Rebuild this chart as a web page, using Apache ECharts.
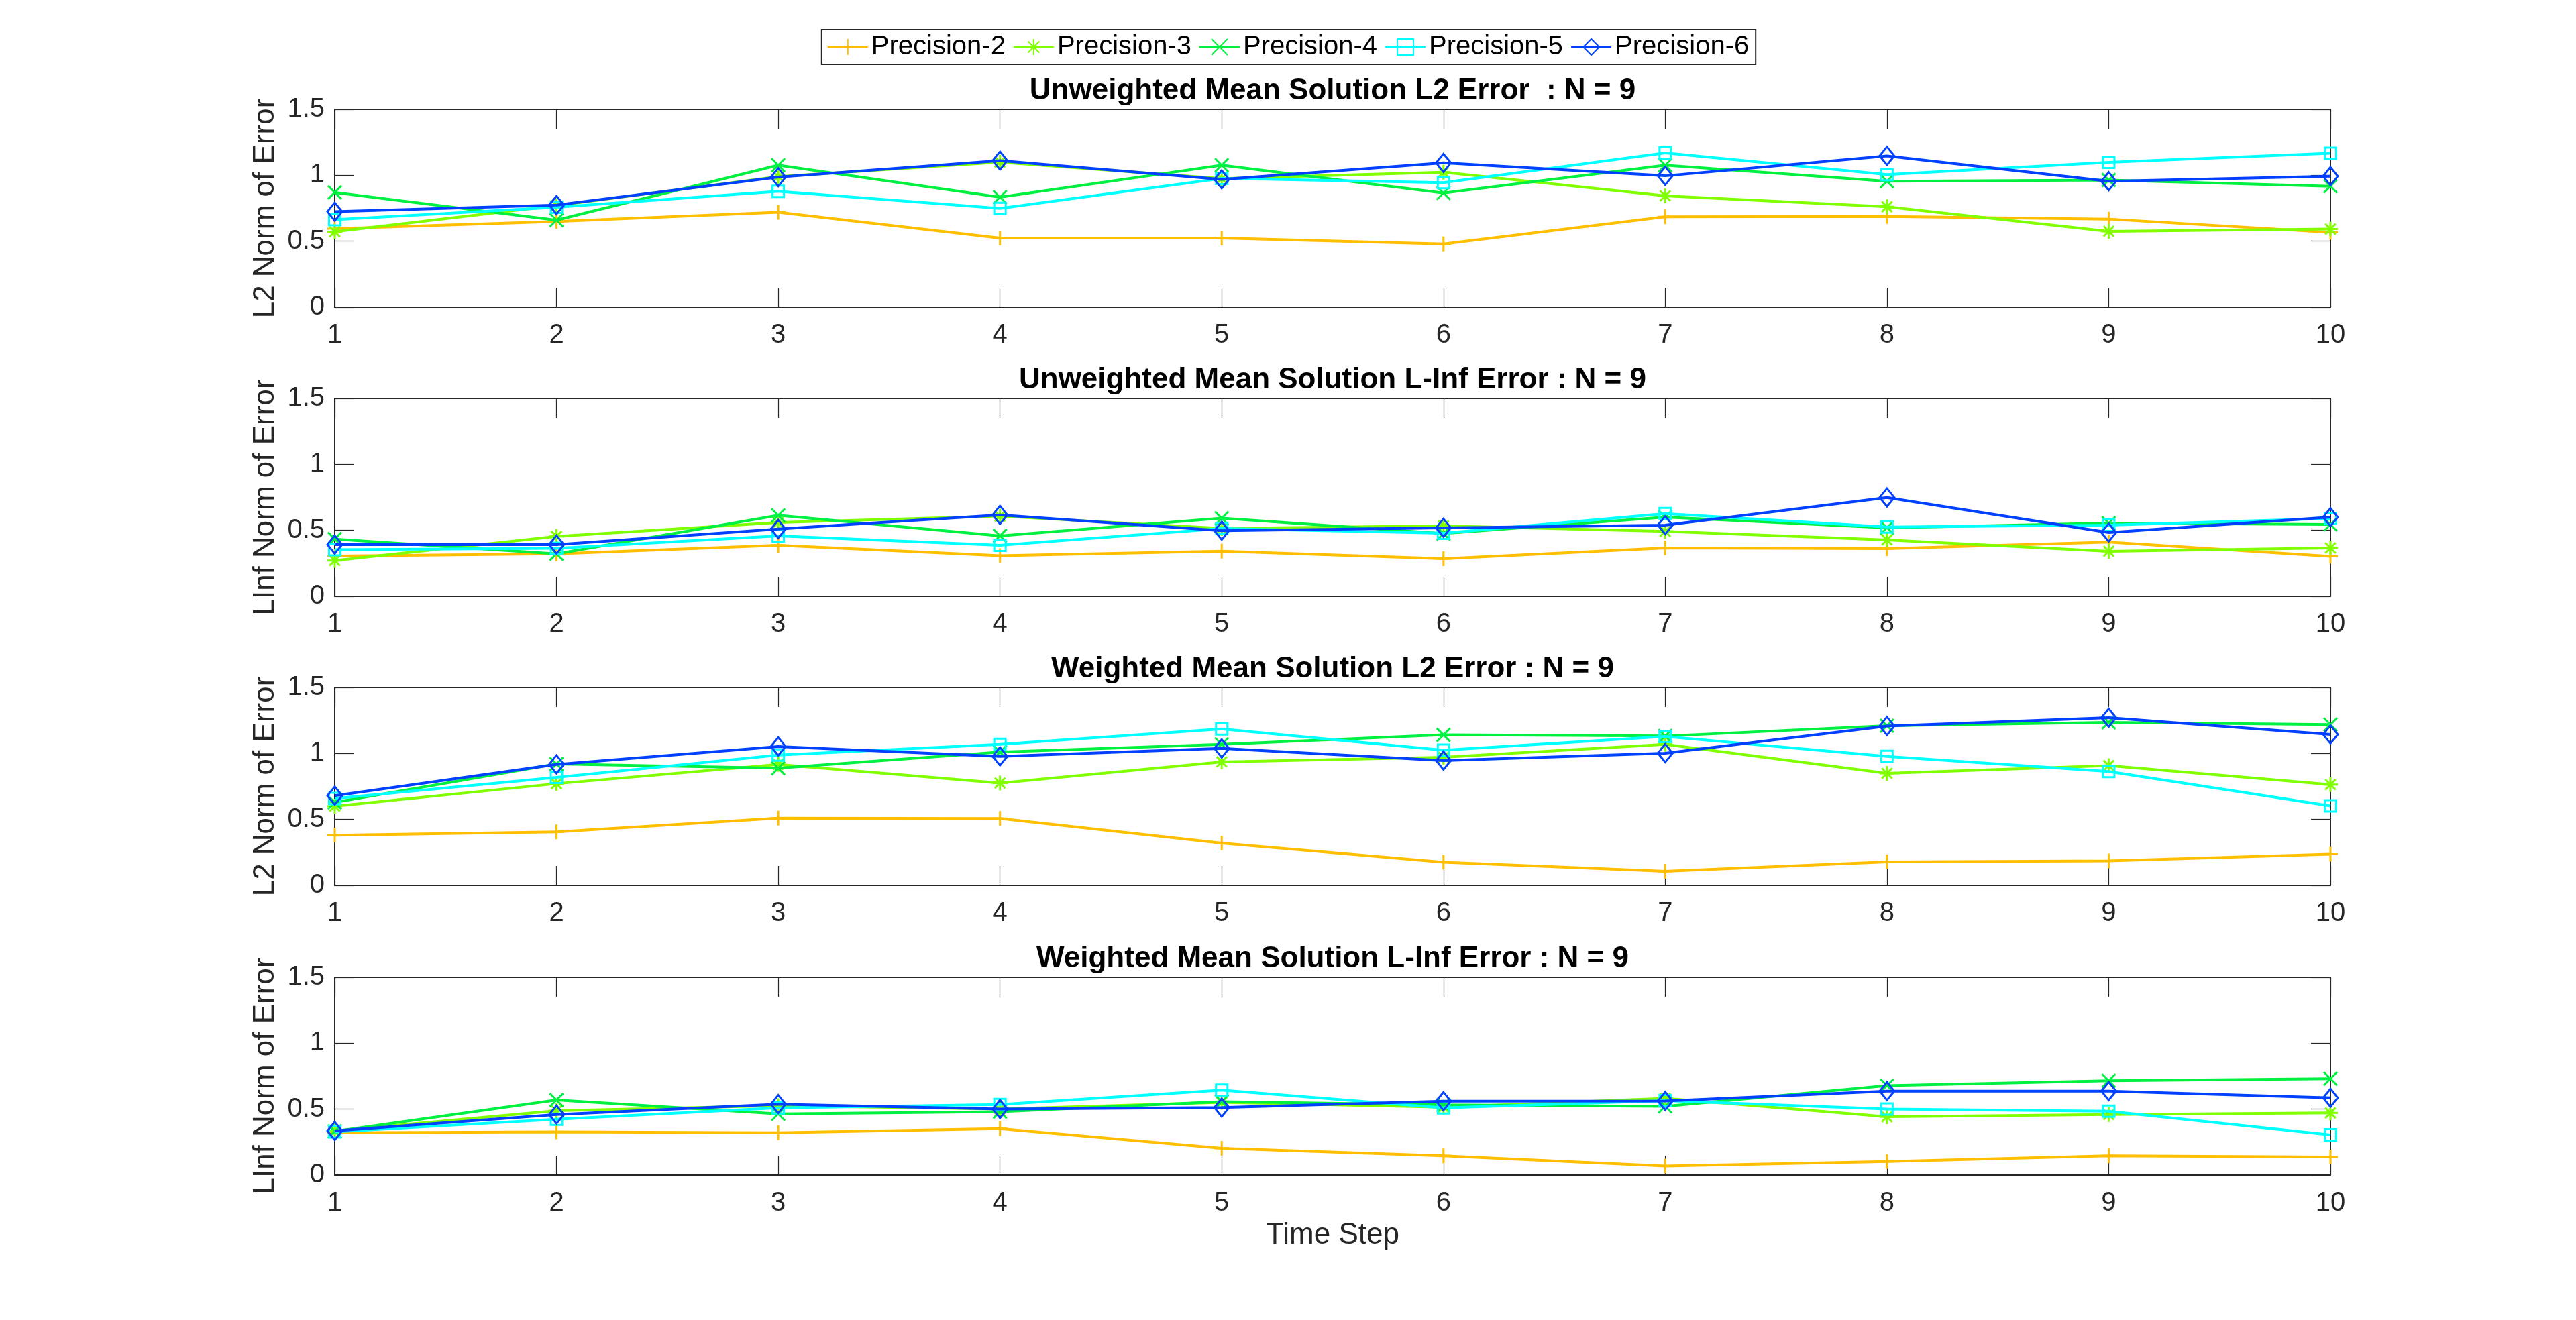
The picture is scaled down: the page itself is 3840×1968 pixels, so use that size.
<!DOCTYPE html>
<html>
<head>
<meta charset="utf-8">
<script src="https://cdn.jsdelivr.net/npm/echarts@6/dist/echarts.min.js"></script>
<style>
html,body{margin:0;padding:0;background:#fff;}
#chart{width:3840px;height:1968px;}
</style>
</head>
<body>
<div id="chart"></div>
<script>
// ---- data ----
const timeSteps = [1, 2, 3, 4, 5, 6, 7, 8, 9, 10];
const seriesNames = ['Precision-2', 'Precision-3', 'Precision-4', 'Precision-5', 'Precision-6'];
const plotTitles = [
  'Unweighted Mean Solution L2 Error  : N = 9',
  'Unweighted Mean Solution L-Inf Error : N = 9',
  'Weighted Mean Solution L2 Error : N = 9',
  'Weighted Mean Solution L-Inf Error : N = 9'
];
const yAxisNames = ['L2 Norm of Error', 'LInf Norm of Error', 'L2 Norm of Error', 'LInf Norm of Error'];
const xAxisName = 'Time Step';
const yTicks = [0, 0.5, 1, 1.5];

// Unweighted mean, L2
const uwL2_p2 = [0.595, 0.649, 0.720, 0.524, 0.524, 0.479, 0.685, 0.688, 0.668, 0.567];
const uwL2_p3 = [0.572, 0.770, 0.990, 1.099, 0.975, 1.023, 0.844, 0.761, 0.575, 0.592];
const uwL2_p4 = [0.870, 0.660, 1.077, 0.834, 1.077, 0.866, 1.077, 0.955, 0.964, 0.917];
const uwL2_p5 = [0.663, 0.758, 0.878, 0.749, 0.976, 0.945, 1.169, 1.006, 1.098, 1.167];
const uwL2_p6 = [0.724, 0.774, 0.986, 1.111, 0.969, 1.094, 0.996, 1.147, 0.955, 0.993];

// Unweighted mean, L-Inf
const uwLi_p2 = [0.305, 0.322, 0.386, 0.308, 0.342, 0.285, 0.366, 0.361, 0.410, 0.302];
const uwLi_p3 = [0.271, 0.454, 0.559, 0.607, 0.515, 0.534, 0.492, 0.427, 0.341, 0.366];
const uwLi_p4 = [0.434, 0.322, 0.614, 0.458, 0.592, 0.475, 0.600, 0.519, 0.554, 0.544];
const uwLi_p5 = [0.353, 0.363, 0.458, 0.386, 0.513, 0.478, 0.627, 0.525, 0.539, 0.590];
const uwLi_p6 = [0.392, 0.392, 0.510, 0.617, 0.497, 0.519, 0.539, 0.749, 0.483, 0.600];

// Weighted mean, L2
const wL2_p2 = [0.380, 0.405, 0.510, 0.507, 0.320, 0.175, 0.107, 0.178, 0.185, 0.236];
const wL2_p3 = [0.600, 0.771, 0.917, 0.776, 0.936, 0.971, 1.069, 0.849, 0.908, 0.764];
const wL2_p4 = [0.629, 0.920, 0.888, 1.010, 1.069, 1.141, 1.132, 1.210, 1.236, 1.219];
const wL2_p5 = [0.659, 0.819, 0.988, 1.069, 1.186, 1.024, 1.129, 0.978, 0.863, 0.603];
const wL2_p6 = [0.680, 0.917, 1.053, 0.978, 1.038, 0.946, 1.002, 1.208, 1.271, 1.144];

// Weighted mean, L-Inf
const wLi_p2 = [0.322, 0.328, 0.322, 0.352, 0.203, 0.146, 0.069, 0.103, 0.146, 0.137];
const wLi_p3 = [0.335, 0.488, 0.526, 0.501, 0.552, 0.515, 0.582, 0.442, 0.459, 0.471];
const wLi_p4 = [0.332, 0.569, 0.464, 0.481, 0.557, 0.532, 0.521, 0.679, 0.716, 0.731];
const wLi_p5 = [0.328, 0.423, 0.510, 0.535, 0.645, 0.510, 0.565, 0.501, 0.484, 0.305];
const wLi_p6 = [0.335, 0.459, 0.538, 0.501, 0.512, 0.560, 0.562, 0.637, 0.637, 0.586];

const plotData = [
  [uwL2_p2, uwL2_p3, uwL2_p4, uwL2_p5, uwL2_p6],
  [uwLi_p2, uwLi_p3, uwLi_p4, uwLi_p5, uwLi_p6],
  [wL2_p2, wL2_p3, wL2_p4, wL2_p5, wL2_p6],
  [wLi_p2, wLi_p3, wLi_p4, wLi_p5, wLi_p6]
];

// ---- styles ----
const FONT = '"Liberation Sans", Arial, Helvetica, sans-serif';
const AX = '#262626';
const colors = ['#FFBF00', '#80FF00', '#00F040', '#00FFFF', '#0040FF'];
const symbols = [
  'path://M10,0 L10,20 M0,10 L20,10',
  'path://M10,0 L10,20 M0,10 L20,10 M2.93,2.93 L17.07,17.07 M2.93,17.07 L17.07,2.93',
  'path://M0,0 L20,20 M0,20 L20,0',
  'rect',
  'diamond'
];
const symbolSizes = [22, 22, 20, 17, [22, 27]];

const gridLeft = 499, gridWidth = 2975, gridHeight = 295;
const gridTops = [163, 594, 1025, 1457];

const grids = [], xAxes = [], yAxes = [], titles = [], series = [];

gridTops.forEach((top, i) => {
  grids.push({left: gridLeft, top: top, width: gridWidth, height: gridHeight});
  titles.push({
    text: plotTitles[i], left: gridLeft + gridWidth / 2, top: top - 49, textAlign: 'center', padding: 0,
    textStyle: {fontSize: 44, fontWeight: 'bold', color: '#000', fontFamily: FONT}
  });
  const axisLine = {show: true, onZero: false, lineStyle: {color: AX, width: 2}};
  const axisTick = {show: true, inside: true, length: 29, lineStyle: {color: AX, width: 1.2}};
  xAxes.push({
    gridIndex: i, type: 'value', min: 1, max: 10, interval: 1, position: 'bottom',
    axisLine: axisLine, axisTick: axisTick, splitLine: {show: false},
    axisLabel: {fontSize: 40, color: AX, margin: 22, fontFamily: FONT},
    name: i === 3 ? xAxisName : '', nameLocation: 'middle', nameGap: 68,
    nameTextStyle: {fontSize: 44, color: AX, fontFamily: FONT}
  });
  xAxes.push({
    gridIndex: i, type: 'value', min: 1, max: 10, interval: 1, position: 'top',
    axisLine: axisLine, axisTick: axisTick, splitLine: {show: false}, axisLabel: {show: false}
  });
  yAxes.push({
    gridIndex: i, type: 'value', min: 0, max: 1.5, interval: 0.5, position: 'left',
    axisLine: axisLine, axisTick: axisTick, splitLine: {show: false},
    axisLabel: {fontSize: 40, color: AX, margin: 15, fontFamily: FONT,
      customValues: yTicks},
    name: yAxisNames[i], nameLocation: 'middle', nameGap: 73,
    nameTextStyle: {fontSize: 44, color: AX, fontFamily: FONT}
  });
  yAxes.push({
    gridIndex: i, type: 'value', min: 0, max: 1.5, interval: 0.5, position: 'right',
    axisLine: axisLine, axisTick: axisTick, splitLine: {show: false}, axisLabel: {show: false}
  });
  plotData[i].forEach((vals, j) => {
    series.push({
      type: 'line', name: seriesNames[j],
      xAxisIndex: 2 * i, yAxisIndex: 2 * i,
      data: timeSteps.map((t, k) => [t, vals[k]]),
      symbol: symbols[j], symbolSize: symbolSizes[j], showSymbol: true,
      lineStyle: {color: colors[j], width: 4},
      itemStyle: {color: 'none', borderColor: colors[j], borderWidth: 3},
      emphasis: {disabled: true},
      animation: false, z: 2 + j
    });
  });
});

const chart = echarts.init(document.getElementById('chart'), null, {renderer: 'canvas'});
chart.setOption({
  backgroundColor: '#fff',
  animation: false,
  title: titles,
  legend: {
    data: seriesNames, left: 'center', top: 44,
    orient: 'horizontal',
    itemWidth: 60, itemHeight: 30, itemGap: 11,
    padding: [6, 10, 6, 8],
    borderColor: AX, borderWidth: 2,
    textStyle: {fontSize: 40, color: '#000', fontFamily: FONT}
  },
  grid: grids,
  xAxis: xAxes,
  yAxis: yAxes,
  series: series
});
</script>
</body>
</html>
